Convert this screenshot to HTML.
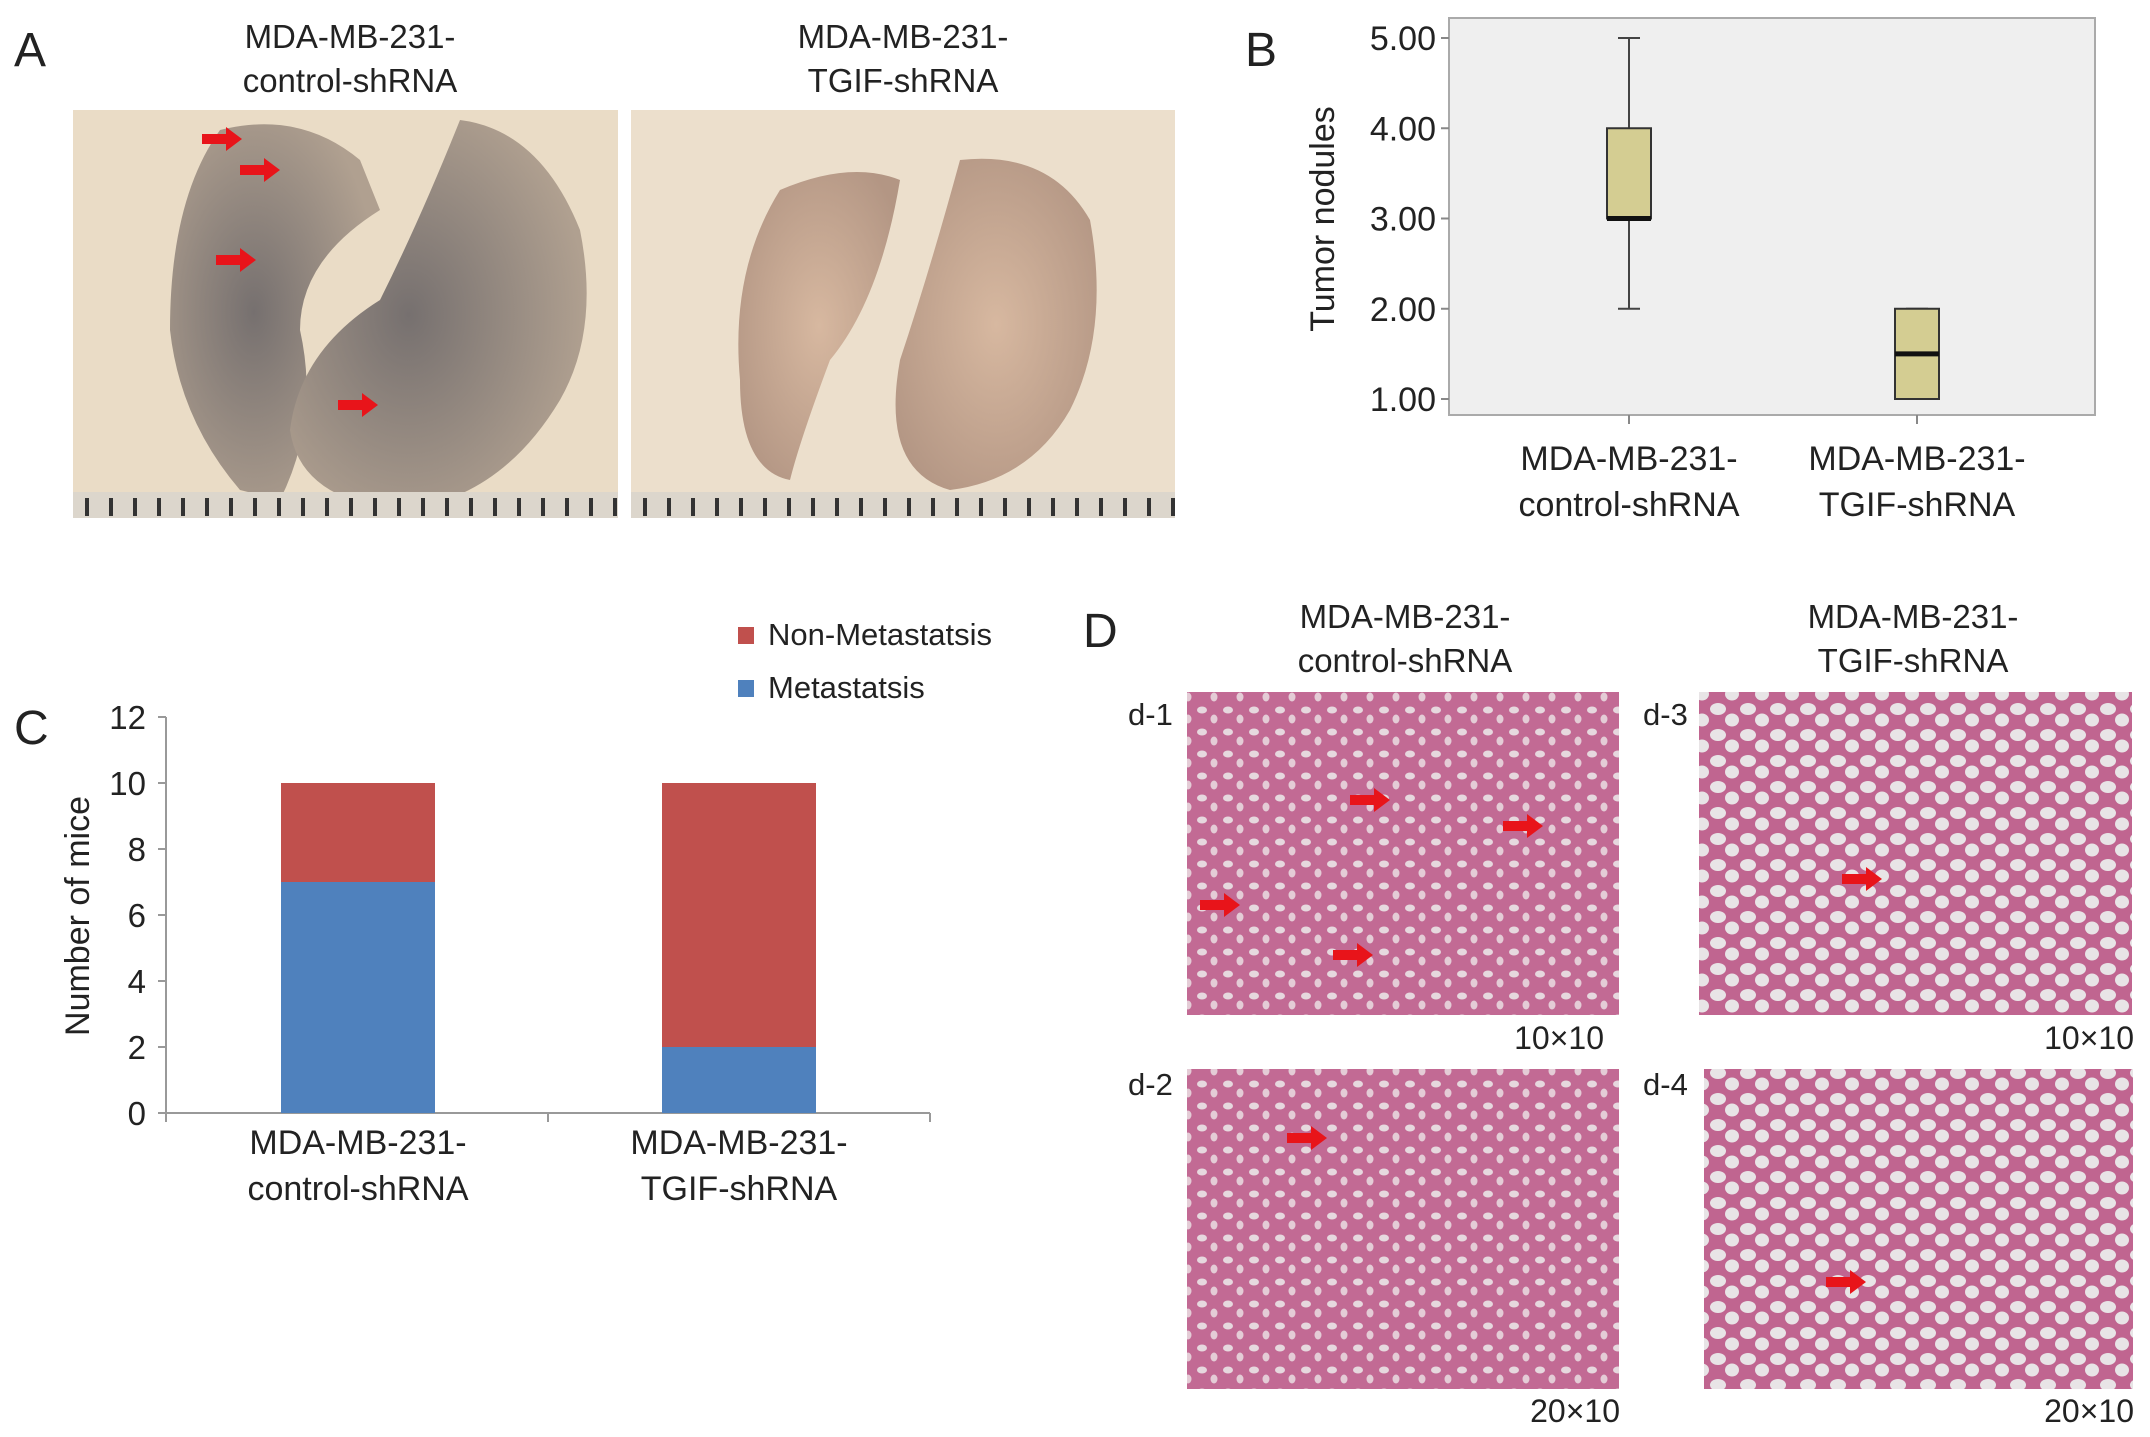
<!DOCTYPE html>
<html><head><meta charset="utf-8"><style>
html,body{margin:0;padding:0;background:#fff}
svg{display:block}
text{font-family:"Liberation Sans",sans-serif;fill:#222}
</style></head><body>
<svg id="fig" width="2150" height="1437" viewBox="0 0 2150 1437" xmlns="http://www.w3.org/2000/svg">
<defs>
<pattern id="alvDark" width="26" height="22" patternUnits="userSpaceOnUse">
<rect width="26" height="22" fill="#c26a94"/>
<ellipse cx="6" cy="6" rx="5" ry="3.5" fill="#e6d8de"/>
<ellipse cx="18" cy="15" rx="3.5" ry="4.5" fill="#e4ccd6"/>
</pattern>
<pattern id="alvLight" width="30" height="26" patternUnits="userSpaceOnUse">
<rect width="30" height="26" fill="#c06590"/>
<ellipse cx="8" cy="7" rx="8" ry="6" fill="#e8e4e6"/>
<ellipse cx="22" cy="18" rx="7" ry="6.5" fill="#e8e4e6"/>
</pattern>
<radialGradient id="lung1" cx="0.4" cy="0.5" r="0.6"><stop offset="0" stop-color="#76706f"/><stop offset="1" stop-color="#b0a090"/></radialGradient>
<radialGradient id="lung2" cx="0.5" cy="0.5" r="0.6"><stop offset="0" stop-color="#d7b8a0"/><stop offset="1" stop-color="#b39684"/></radialGradient>
</defs>

<!-- Panel A -->
<g>
<text x="14" y="66" font-size="48">A</text>
<text x="350" y="48" font-size="33" text-anchor="middle">MDA-MB-231-</text>
<text x="350" y="92" font-size="33" text-anchor="middle">control-shRNA</text>
<text x="903" y="48" font-size="33" text-anchor="middle">MDA-MB-231-</text>
<text x="903" y="92" font-size="33" text-anchor="middle">TGIF-shRNA</text>
<g>
<rect x="73" y="110" width="545" height="408" fill="#eadcc6"/>
<path d="M220 130 Q300 110 360 160 L380 210 Q300 260 300 330 Q320 420 280 500 L240 490 Q180 420 170 330 Q170 200 220 130Z" fill="url(#lung1)"/>
<path d="M460 120 Q540 130 580 230 Q600 330 560 400 Q500 500 400 510 Q300 500 290 430 Q300 350 380 300 Q420 220 460 120Z" fill="url(#lung1)"/>
<rect x="73" y="492" width="545" height="26" fill="#dcd6cc"/>
</g>
<g>
<rect x="631" y="110" width="544" height="408" fill="#ecdfcc"/>
<path d="M780 190 Q850 160 900 180 Q880 300 830 360 Q800 440 790 480 Q740 470 740 380 Q730 270 780 190Z" fill="url(#lung2)"/>
<path d="M960 160 Q1050 150 1090 220 Q1110 330 1070 410 Q1030 480 950 490 Q880 470 900 360 Q930 270 960 160Z" fill="url(#lung2)"/>
<rect x="631" y="492" width="544" height="26" fill="#dcd6cc"/>
</g>
<g id="rulers"></g>
<g fill="#e8141a">
<polygon points="202,134 226,134 226,127 242,139 226,151 226,144 202,144"/>
<polygon points="240,165 264,165 264,158 280,170 264,182 264,175 240,175"/>
<polygon points="216,255 240,255 240,248 256,260 240,272 240,265 216,265"/>
<polygon points="338,400 362,400 362,393 378,405 362,417 362,410 338,410"/>
</g>
</g>

<!-- Panel B -->
<g>
<text x="1245" y="66" font-size="48">B</text>
<rect x="1449" y="18" width="646" height="397" fill="#efefef" stroke="#aaa" stroke-width="2"/>
<g id="bAxis"></g><g id="bBoxes"></g>
<text transform="translate(1334,219) rotate(-90)" font-size="34" text-anchor="middle">Tumor nodules</text>
</g>

<!-- Panel C -->
<g>
<text x="14" y="744" font-size="48">C</text>
<g id="cChart"></g>
<text transform="translate(89,916) rotate(-90)" font-size="34" text-anchor="middle">Number of mice</text>
<g>
<rect x="738" y="627" width="16" height="17" fill="#c0504d"/>
<text x="768" y="645" font-size="31">Non-Metastatsis</text>
<rect x="738" y="680" width="16" height="17" fill="#4f81bd"/>
<text x="768" y="698" font-size="31">Metastatsis</text>
</g>
</g>

<!-- Panel D -->
<g>
<text x="1083" y="647" font-size="48">D</text>
<text x="1405" y="628" font-size="33" text-anchor="middle">MDA-MB-231-</text>
<text x="1405" y="672" font-size="33" text-anchor="middle">control-shRNA</text>
<text x="1913" y="628" font-size="33" text-anchor="middle">MDA-MB-231-</text>
<text x="1913" y="672" font-size="33" text-anchor="middle">TGIF-shRNA</text>
<rect x="1187" y="692" width="432" height="323" fill="url(#alvDark)"/>
<rect x="1699" y="692" width="433" height="323" fill="url(#alvLight)"/>
<rect x="1187" y="1069" width="432" height="320" fill="url(#alvDark)"/>
<rect x="1704" y="1069" width="429" height="320" fill="url(#alvLight)"/>
<text x="1128" y="725" font-size="31">d-1</text>
<text x="1643" y="725" font-size="31">d-3</text>
<text x="1128" y="1095" font-size="31">d-2</text>
<text x="1643" y="1095" font-size="31">d-4</text>
<text x="1604" y="1049" font-size="32" text-anchor="end">10×10</text>
<text x="2134" y="1049" font-size="32" text-anchor="end">10×10</text>
<text x="1620" y="1422" font-size="32" text-anchor="end">20×10</text>
<text x="2134" y="1422" font-size="32" text-anchor="end">20×10</text>
<g fill="#e8141a">
<polygon points="1350,795 1374,795 1374,788 1390,800 1374,812 1374,805 1350,805"/>
<polygon points="1503,821 1527,821 1527,814 1543,826 1527,838 1527,831 1503,831"/>
<polygon points="1200,900 1224,900 1224,893 1240,905 1224,917 1224,910 1200,910"/>
<polygon points="1333,950 1357,950 1357,943 1373,955 1357,967 1357,960 1333,960"/>
<polygon points="1842,874 1866,874 1866,867 1882,879 1866,891 1866,884 1842,884"/>
<polygon points="1287,1133 1311,1133 1311,1126 1327,1138 1311,1150 1311,1143 1287,1143"/>
<polygon points="1826,1277 1850,1277 1850,1270 1866,1282 1850,1294 1850,1287 1826,1287"/>
</g>
</g>
</svg>
<script>
// ---------- Panel B data ----------
const bGroups = ["MDA-MB-231-|control-shRNA", "MDA-MB-231-|TGIF-shRNA"];
const bMin = [2, 1];
const bQ1 = [3, 1];
const bMedian = [3, 1.5];
const bQ3 = [4, 2];
const bMax = [5, 2];
const bTicks = [1, 2, 3, 4, 5];
// ---------- Panel C data ----------
const cCategories = ["MDA-MB-231-|control-shRNA", "MDA-MB-231-|TGIF-shRNA"];
const cMetastasis = [7, 2];
const cNonMetastasis = [3, 8];
const cTicks = [0, 2, 4, 6, 8, 10, 12];

const NS = "http://www.w3.org/2000/svg";
function mk(tag, attrs, parent) {
  const e = document.createElementNS(NS, tag);
  for (const k in attrs) e.setAttribute(k, attrs[k]);
  parent.appendChild(e); return e;
}
// rulers
const rul = document.getElementById('rulers');
[[73, 618], [631, 1175]].forEach(([a, b]) => {
  for (let x = a + 12; x < b; x += 24) {
    const t = mk('rect', {x: x, y: 498, width: 4, height: 18, fill: '#333'}, rul);
    
    
  }
});

// Panel B
const bY = v => 399 - (v - 1) * (399 - 38) / 4;
const bX = i => 1629 + i * (1917 - 1629);
const bAx = document.getElementById('bAxis');
bTicks.forEach(v => {
  const t = mk('line', {x1: 1441, x2: 1449, y1: bY(v), y2: bY(v), stroke: '#888', 'stroke-width': 2}, bAx);
  
  
  const l = mk('text', {x: 1436, y: bY(v) + 12, 'font-size': 34, 'text-anchor': 'end'}, bAx);
  l.textContent = v.toFixed(2);
  
  
});
const bB = document.getElementById('bBoxes');
bGroups.forEach((g, i) => {
  const cx = bX(i), w = 44;
  const tk = mk('line', {x1: cx, x2: cx, y1: 415, y2: 424, stroke: '#888', 'stroke-width': 2}, bB);
  
  
  const wh = mk('line', {x1: cx, x2: cx, y1: bY(bMax[i]), y2: bY(bMin[i]), stroke: '#444', 'stroke-width': 2}, bB);
  
  
  [bMax[i], bMin[i]].forEach(v => {
    const c = mk('line', {x1: cx - 11, x2: cx + 11, y1: bY(v), y2: bY(v), stroke: '#444', 'stroke-width': 2}, bB);
    
    
  });
  const bx = mk('rect', {x: cx - w / 2, y: bY(bQ3[i]), width: w, height: bY(bQ1[i]) - bY(bQ3[i]), fill: '#d4cd92', stroke: '#333', 'stroke-width': 2}, bB);
  
  
  const md = mk('line', {x1: cx - w / 2, x2: cx + w / 2, y1: bY(bMedian[i]), y2: bY(bMedian[i]), stroke: '#111', 'stroke-width': 5}, bB);
  
  
  g.split('|').forEach((ln, j) => {
    const t = mk('text', {x: cx, y: 470 + j * 46, 'font-size': 34, 'text-anchor': 'middle'}, bB);
    t.textContent = ln;
    
    
  });
});

// Panel C
const cY = v => 1113 - v * (1113 - 717) / 12;
const cX = i => 358 + i * (739 - 358);
const cG = document.getElementById('cChart');
const ya = mk('line', {x1: 166, x2: 166, y1: 717, y2: 1120, stroke: '#999', 'stroke-width': 2}, cG);


const xa = mk('line', {x1: 166, x2: 930, y1: 1113, y2: 1113, stroke: '#999', 'stroke-width': 2}, cG);


[166, 548, 930].forEach(x => {
  const t = mk('line', {x1: x, x2: x, y1: 1113, y2: 1122, stroke: '#999', 'stroke-width': 2}, cG);
  
  
});
cTicks.forEach(v => {
  const t = mk('line', {x1: 158, x2: 166, y1: cY(v), y2: cY(v), stroke: '#999', 'stroke-width': 2}, cG);
  
  
  const l = mk('text', {x: 146, y: cY(v) + 12, 'font-size': 33, 'text-anchor': 'end'}, cG);
  l.textContent = v;
  
  
});
cCategories.forEach((c, i) => {
  const cx = cX(i), w = 154;
  const b1 = mk('rect', {x: cx - w / 2, y: cY(cMetastasis[i]), width: w, height: cY(0) - cY(cMetastasis[i]), fill: '#4f81bd'}, cG);
  
  
  const top = cMetastasis[i] + cNonMetastasis[i];
  const b2 = mk('rect', {x: cx - w / 2, y: cY(top), width: w, height: cY(cMetastasis[i]) - cY(top), fill: '#c0504d'}, cG);
  
  
  c.split('|').forEach((ln, j) => {
    const t = mk('text', {x: cx, y: 1154 + j * 46, 'font-size': 34, 'text-anchor': 'middle'}, cG);
    t.textContent = ln;
    
    
  });
});
</script>
</body></html>
